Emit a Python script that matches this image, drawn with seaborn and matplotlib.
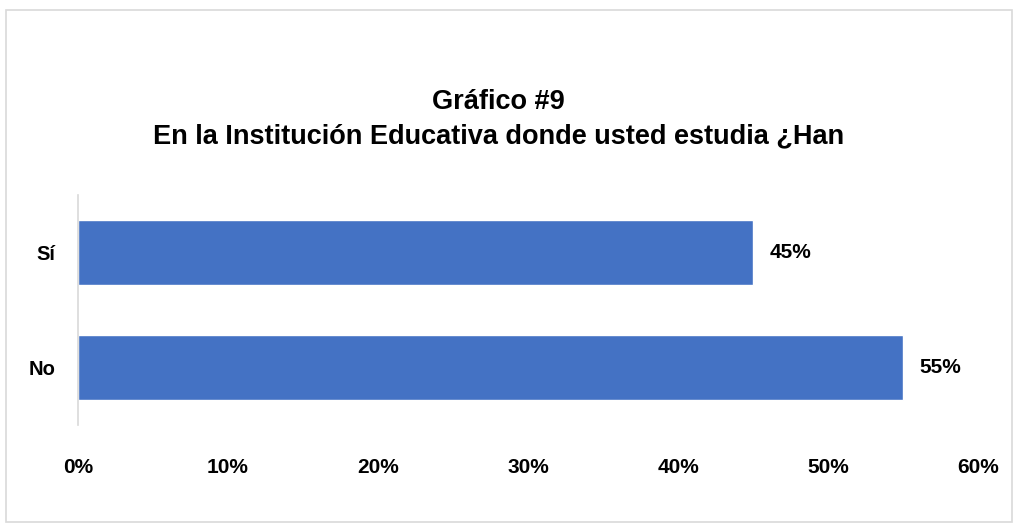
import matplotlib
matplotlib.use("Agg")
import matplotlib.pyplot as plt
import matplotlib.patches as mpatches
import seaborn as sns
import pandas as pd

categories = ["Sí", "No"]
values = [45, 55]
tick_values = [0, 10, 20, 30, 40, 50, 60]
tick_labels = [f"{v}%" for v in tick_values]
title = "Gráfico #9\nEn la Institución Educativa donde usted estudia ¿Han"

sns.set_style("white")
plt.rcParams['font.family'] = ['Liberation Sans', 'DejaVu Sans']
plt.rcParams['text.color'] = 'black'
plt.rcParams['xtick.color'] = 'black'
plt.rcParams['ytick.color'] = 'black'

df = pd.DataFrame({"cat": categories, "val": values})

fig = plt.figure(figsize=(10.19, 5.28), dpi=100)
ax = fig.add_axes([0.0765, 0.195, 0.8833, 0.4355])

sns.barplot(data=df, x="val", y="cat", color="#4472C4", saturation=1,
            width=0.57, orient="h", ax=ax)

ax.set_xlim(0, 60)
ax.set_ylim(1.5, -0.5)
ax.set_xticks(tick_values)
ax.set_xticklabels(tick_labels, fontsize=15, fontweight="bold", color="black")
ax.tick_params(axis="x", length=0, pad=24)
ax.tick_params(axis="y", length=0, pad=16)
for lbl in ax.get_yticklabels():
    lbl.set_fontsize(14.5)
    lbl.set_fontweight("bold")
    lbl.set_color("black")
ax.set_xlabel("")
ax.set_ylabel("")

for s in ["top", "right", "bottom"]:
    ax.spines[s].set_visible(False)
ax.spines["left"].set_color("#d9d9d9")
ax.spines["left"].set_linewidth(1.2)

for i, v in enumerate(values):
    ax.text(v + 1.1, i, f"{v}%", va="center", ha="left",
            fontsize=15, fontweight="bold", color="black")

fig.text(0.489, 0.774, title, ha="center", va="center", fontsize=19.5,
         fontweight="bold", linespacing=1.42, color="black")

border = mpatches.Rectangle((6 / 1019, 1 - 522 / 528), 1006 / 1019, 512 / 528,
                            transform=fig.transFigure, fill=False,
                            edgecolor="#d9d9d9", linewidth=1.2)
fig.patches.append(border)

fig.savefig("out.png", dpi=100)
